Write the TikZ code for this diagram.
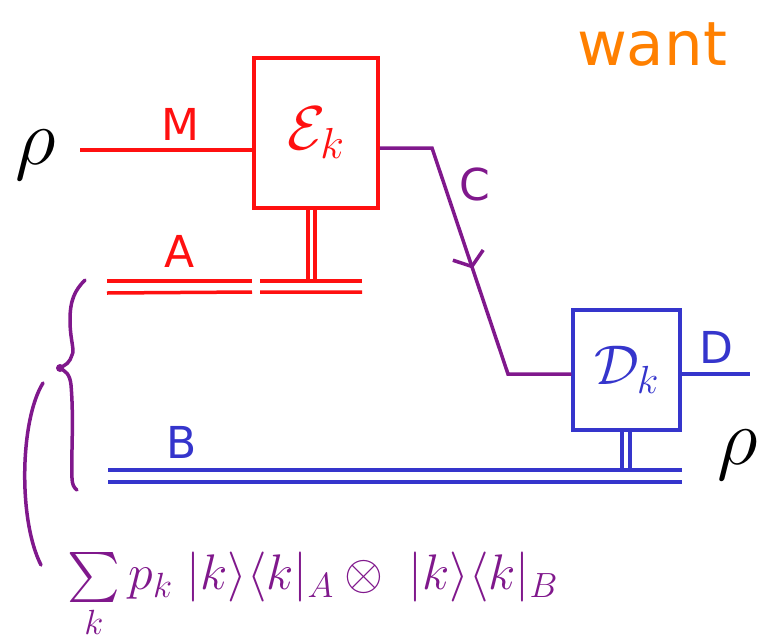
\documentclass[tikz,border=0pt]{standalone}
\usepackage{fix-cm}
\DeclareFontFamily{OMX}{cmex}{}
\DeclareFontShape{OMX}{cmex}{m}{n}{<-> cmex10}{}
\usepackage{fontspec}
\setsansfont{DejaVu Sans}
\usetikzlibrary{arrows.meta,decorations.markings}
\definecolor{myred}{HTML}{FF1010}
\definecolor{mypurple}{HTML}{80188C}
\definecolor{myblue}{HTML}{3535CC}
\definecolor{myorange}{HTML}{FF8000}
\tikzset{
  wire/.style={line width=3.5pt},
  box/.style={draw,line width=3.5pt,inner sep=0pt},
  lbl/.style={font=\sffamily\fontsize{44}{50}\selectfont},
  dbl/.style={line width=3.5pt},
}
\begin{document}
\begin{tikzpicture}[x=1pt,y=-1pt]
\useasboundingbox (0,0) rectangle (760,643);
% title
\node[myorange,font=\sffamily\fontsize{61}{70}\selectfont] (want) at (652,45) {want};
% rho
\node (rhoL) at (36,155) {\fontsize{80}{90}\selectfont$\rho$};
\node (rhoR) at (738,455) {\fontsize{80}{90}\selectfont$\rho$};
% E box
\node[box,myred,minimum width=124pt,minimum height=150pt] (E) at (316,133) {\fontsize{62}{70}\selectfont$\mathcal{E}_k$};
% M wire
\coordinate (Min) at (80,150);
\draw[wire,myred] (Min) -- (E.west |- Min);
\node[lbl,myred] (M) at (180,124) {M};
% E to A double vertical
\coordinate (Ea) at (308,208);
\coordinate (Eb) at (315,208);
\coordinate (Aj) at (308,281);
\draw[dbl,myred] (Ea) -- (Aj);
\draw[dbl,myred] (Eb) -- (315,281);
% A double lines
\coordinate (A1) at (107,281);
\coordinate (A2) at (252,281);
\coordinate (A3) at (260,281);
\coordinate (A4) at (362,281);
\draw[dbl,myred] (A1) -- (A2) (A3) -- (A4);
\draw[dbl,myred] (107,293) -- (252,292) (260,292) -- (362,292);
\node[lbl,myred] (A) at (180,251) {A};
% D box
\node[box,myblue,minimum width=107pt,minimum height=120pt] (D) at (626.5,370) {\fontsize{56}{64}\selectfont$\mathcal{D}_{k}$};
% C wire
\coordinate (C1) at (432,148);
\coordinate (C2) at (508,374);
\draw[wire,mypurple,
  postaction={decorate},
  decoration={markings,mark=at position 0.507 with {\arrow[line width=3.5pt]{Straight Barb[length=12pt,width=32pt]}}}]
  (E.east |- C1) -- (C1) -- (C2) -- (D.west |- C2);
\node[lbl,mypurple] (C) at (475,184) {C};
% D output
\coordinate (Dout) at (750,374);
\draw[wire,myblue] (D.east |- Dout) -- (Dout);
\node[lbl,myblue] (Dl) at (716,347) {D};
% D to B double vertical
\draw[dbl,myblue] (622,430) -- (622,470) (630,430) -- (630,470);
% B double lines
\coordinate (B1) at (108,470);
\coordinate (B2) at (682,470);
\draw[dbl,myblue] (B1) -- (B2) (108,482) -- (682,482);
\node[lbl,myblue] (B) at (182,442) {B};
% brace
\draw[line width=3.5pt,mypurple,line cap=round,line join=round]
  (85,280) .. controls (75,290) and (70,300) .. (70,320)
  .. controls (70,340) and (75,350) .. (72,355)
  .. controls (70,362) and (66,366) .. (58,368)
  .. controls (66,370) and (70,375) .. (71,385)
  .. controls (74,420) and (71,455) .. (72,478)
  .. controls (72,484) and (74,488) .. (77,490);
\fill[mypurple] (60,368) circle (4);
% bracket arc
\draw[line width=3.5pt,mypurple,line cap=round]
  (43,383) .. controls (20,420) and (18,520) .. (41,565);
% formula
\node[mypurple,anchor=west] (F) at (64,596) {\fontsize{50}{58}\selectfont$\textstyle\sum\limits_k p_k\;|k\rangle\langle k|_A\otimes\;|k\rangle\langle k|_B$};
\end{tikzpicture}
\end{document}
